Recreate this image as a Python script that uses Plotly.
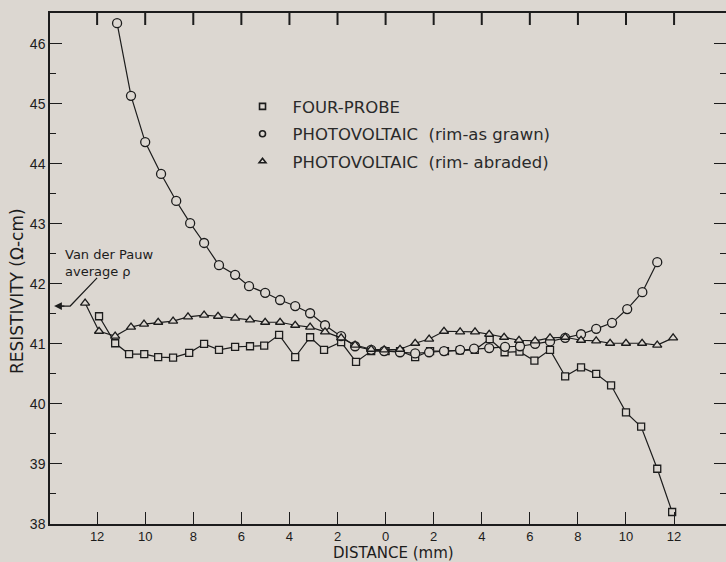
import plotly.graph_objects as go

# Resistivity profiles across the wafer diameter (distance in mm, left side negative)
four_probe_x = [-11.92, -11.25, -10.67, -10.04, -9.46, -8.84, -8.17, -7.55, -6.93, -6.26,
                -5.64, -5.05, -4.43, -3.76, -3.14, -2.56, -1.85, -1.23, -0.60, 0.0,
                0.60, 1.23, 1.85, 2.47, 3.09, 3.71, 4.33, 4.95, 5.57, 6.19,
                6.84, 7.47, 8.13, 8.76, 9.38, 10.00, 10.63, 11.30, 11.92]
four_probe_y = [41.46, 41.01, 40.83, 40.83, 40.78, 40.77, 40.85, 41.00, 40.90, 40.95,
                40.96, 40.97, 41.15, 40.78, 41.11, 40.90, 41.03, 40.70, 40.88, 40.88,
                40.88, 40.78, 40.88, 40.88, 40.89, 40.90, 41.08, 40.86, 40.87, 40.72,
                40.90, 40.46, 40.61, 40.50, 40.31, 39.86, 39.62, 38.92, 38.20]

grown_x = [-11.17, -10.59, -10.00, -9.34, -8.71, -8.13, -7.55, -6.93, -6.26, -5.68,
           -5.01, -4.39, -3.76, -3.14, -2.52, -1.85, -1.27, -0.60, -0.06, 0.60,
           1.23, 1.81, 2.43, 3.10, 3.68, 4.31, 4.97, 5.59, 6.22, 6.84,
           7.47, 8.13, 8.76, 9.42, 10.05, 10.68, 11.30]
grown_y = [46.34, 45.13, 44.36, 43.83, 43.38, 43.01, 42.68, 42.31, 42.15, 41.96,
           41.85, 41.73, 41.63, 41.51, 41.31, 41.13, 40.96, 40.90, 40.88, 40.86,
           40.84, 40.86, 40.88, 40.90, 40.92, 40.93, 40.95, 40.96, 41.00, 41.04,
           41.10, 41.16, 41.25, 41.35, 41.58, 41.86, 42.36]

abraded_x = [-12.50, -11.92, -11.25, -10.59, -10.05, -9.46, -8.84, -8.22, -7.55, -6.97,
             -6.26, -5.64, -5.01, -4.39, -3.76, -3.14, -2.52, -1.85, -1.27, -0.60,
             -0.06, 0.60, 1.23, 1.81, 2.43, 3.10, 3.72, 4.31, 4.93, 5.55,
             6.22, 6.84, 7.47, 8.13, 8.76, 9.34, 10.00, 10.67, 11.30, 11.96]
abraded_y = [41.68, 41.21, 41.13, 41.28, 41.33, 41.36, 41.38, 41.45, 41.48, 41.46,
             41.43, 41.40, 41.36, 41.36, 41.31, 41.28, 41.20, 41.10, 40.98, 40.91,
             40.90, 40.91, 41.01, 41.08, 41.21, 41.20, 41.20, 41.16, 41.11, 41.06,
             41.05, 41.10, 41.11, 41.06, 41.05, 41.01, 41.01, 41.01, 40.98, 41.10]

vdp_average = 41.63

x_ticks = [-12, -10, -8, -6, -4, -2, 0, 2, 4, 6, 8, 10, 12]
x_tick_text = [str(abs(v)) for v in x_ticks]
y_ticks = [38, 39, 40, 41, 42, 43, 44, 45, 46]

x_range = [-13.96, 14.16]
y_range = [38, 46.51]
plot_h = 562 - 13 - 38

paper = "rgb(220,215,209)"
ink = "#1c1c1c"
font = "Liberation Sans, Arial, sans-serif"
wide = "DejaVu Sans, Verdana, sans-serif"
nb = "\u00a0"

fig = go.Figure()

series = [
    ("FOUR-PROBE", four_probe_x, four_probe_y, "square", 7),
    (f"PHOTOVOLTAIC{nb}{nb}(rim-as{nb}grawn)", grown_x, grown_y, "circle", 9),
    (f"PHOTOVOLTAIC{nb}{nb}(rim-{nb}abraded)", abraded_x, abraded_y, "triangle-up", 8),
]

for name, xs, ys, sym, size in series:
    fig.add_trace(go.Scatter(
        x=xs, y=ys, mode="lines", showlegend=False,
        line=dict(color=ink, width=1.2), hoverinfo="skip"))
    # markers filled with the paper colour hide the joining line inside each symbol
    fig.add_trace(go.Scatter(
        x=xs, y=ys, mode="markers", showlegend=False,
        marker=dict(symbol=sym, size=size, color=paper,
                    line=dict(color=ink, width=1.3))))

for i, (name, xs, ys, sym, size) in enumerate(series):
    fig.add_trace(go.Scatter(
        x=[None], y=[None], mode="markers", name=name, legendgroup=str(i),
        marker=dict(symbol=sym + "-open", size=6, color=ink,
                    line=dict(color=ink, width=1.6))))

# empty trace carrying the right-hand tick marks
fig.add_trace(go.Scatter(x=[None], y=[None], yaxis="y2", showlegend=False))

fig.update_layout(
    width=726, height=562,
    margin=dict(l=50, r=0, t=13, b=38),
    paper_bgcolor=paper, plot_bgcolor=paper,
    font=dict(family=font, color=ink, size=13),
    showlegend=True,
    legend=dict(x=0.270, y=0.851, xanchor="left", yanchor="top",
                bgcolor="rgba(0,0,0,0)", traceorder="grouped", tracegroupgap=3,
                font=dict(size=16.5, color="#2a2a2a", family=wide), itemwidth=50),
    xaxis=dict(range=x_range, tickvals=x_ticks, ticktext=x_tick_text,
               ticks="inside", ticklen=12, tickwidth=1.4, tickcolor=ink,
               showline=True, linecolor=ink, linewidth=1.5, mirror=True,
               showgrid=False, zeroline=False, tickfont=dict(size=13)),
    yaxis=dict(range=y_range, tickvals=y_ticks,
               ticks="inside", ticklen=12, tickwidth=1.4, tickcolor=ink,
               minor=dict(dtick=0.5, ticks="inside", ticklen=6, tickcolor=ink, tickwidth=1.2),
               showline=True, linecolor=ink, linewidth=1.5,
               showgrid=False, zeroline=False, tickfont=dict(size=14)),
    yaxis2=dict(range=y_range, overlaying="y", side="right", anchor="free", position=1,
                tickvals=y_ticks, ticks="inside", ticklen=12, tickwidth=1.4, tickcolor=ink,
                minor=dict(dtick=0.5, ticks="inside", ticklen=6, tickcolor=ink, tickwidth=1.2),
                showticklabels=False, showline=False, showgrid=False, zeroline=False),
)

# tick marks hanging from the top frame line
for v in x_ticks:
    fig.add_shape(type="line", xref="x", yref="paper", x0=v, x1=v,
                  y0=1, y1=1 - 12 / plot_h, line=dict(color=ink, width=2))

# axis titles
fig.add_annotation(text="RESISTIVITY (\u03a9-cm)", xref="paper", yref="paper",
                   x=-0.048, y=0.455, textangle=-90, showarrow=False,
                   font=dict(size=17, family=wide), xanchor="center", yanchor="middle")
fig.add_annotation(text="DISTANCE (mm)", xref="paper", yref="paper",
                   x=0.508, y=-0.0565, showarrow=False, font=dict(size=15, family=wide),
                   xanchor="center", yanchor="middle")

# Van der Pauw reference value pointed at on the left axis
fig.add_annotation(text="Van der Pauw<br>average \u03c1", xref="x", yref="y",
                   x=-13.42, y=42.354, xanchor="left", yanchor="middle", align="left",
                   showarrow=False, font=dict(size=13, family=wide))
fig.add_shape(type="path", xref="x", yref="y",
              path=f"M -12.0 42.1 L -13.12 {vdp_average} L -13.5 {vdp_average}",
              line=dict(color=ink, width=1.2))
fig.add_annotation(x=-13.79, y=vdp_average, ax=-13.3, ay=vdp_average,
                   xref="x", yref="y", axref="x", ayref="y", text="",
                   showarrow=True, arrowhead=2, arrowsize=1.3, arrowwidth=1.2,
                   arrowcolor=ink)

fig.write_html("out.html")
